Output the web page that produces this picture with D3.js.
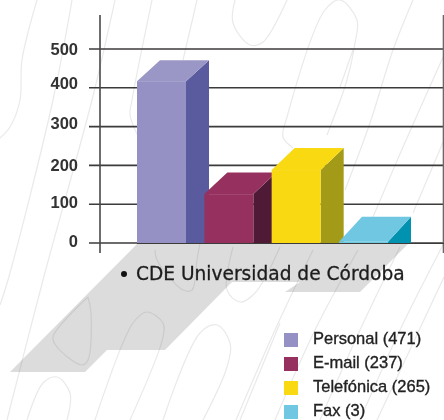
<!DOCTYPE html>
<html><head><meta charset="utf-8">
<script src="https://cdn.jsdelivr.net/npm/d3@7"></script>
<style>html,body{margin:0;padding:0;background:#fff}svg{display:block;filter:blur(0.5px)}</style>
</head><body><svg id="c" width="444" height="420"></svg>
<script>
// data
const categories = ["Personal","E-mail","Telefónica","Fax"];
const legendCounts = [471,237,265,3];
const drawnHeights = [417,126,188,3];
const frontColors = ["#9591c4","#96305f","#f9d911","#6fc7e2"];
const sideColors = ["#5a5a9f","#4e1a36","#a39a17","#0092ae"];
const topColors = ["#9a96c6","#96305f","#f9d911","#6fc7e2"];
const tickValues = [0,100,200,300,400,500];
const tickNudge = [-2,-2,0,-3.5,-4.5,0];
const title = "CDE Universidad de Córdoba";

// decoration: background watermark strokes
const watermark = [
 [[37,0],[22,60],[20,100],[10,127],[0,138]],
 [[72,0],[53,100],[8,280],[0,305]],
 [[115,0],[92,100],[43,280],[7,420]],
 [[152,0],[132,100],[130,115],[140,140]],
 [[197,0],[183,60]],
 [[235,0],[233,23],[250,45],[263,42],[287,0]],
 [[293,148],[283,137],[287,117],[325,10],[340,0],[357,20],[355,43],[347,80],[327,135]],
 [[413,0],[393,50],[370,123],[345,190]],
 [[444,55],[403,147],[373,217]],
 [[353,50],[340,87]],
 [[444,140],[413,213]],
 [[233,247],[227,290],[240,302],[255,293],[280,247]],
 [[155,250],[157,260],[183,290],[192,290],[197,260],[200,243]],
 [[88,297],[91,313],[88,360],[82,365],[57,347],[53,337],[88,297]],
 [[95,420],[133,323],[147,312],[163,323],[163,337],[130,420]],
 [[163,420],[200,333],[217,325],[230,343],[227,367],[203,420]],
 [[27,420],[43,383],[57,377],[70,393],[67,420]],
 [[280,323],[240,420]],
 [[313,250],[275,330],[236,420]],
 [[358,250],[315,330],[275,420]],
 [[400,247],[360,330],[320,420]],
 [[444,243],[400,330],[360,420]],
 [[444,277],[377,420]]
];
const shadow = [[137,244],[10,372],[85,372],[107,350],[165,350],[232,282],[300,282],[285,292],[360,292],[408,244]];

const svg = d3.select("#c");
const y = d3.scaleLinear().domain([0,500]).range([243,49]);
const x = d3.scaleBand().domain(categories).range([137,388]).paddingInner(0.272).paddingOuter(0);
const depthX = 23;
const depthYs = [21,21.5,22,25];
const poly = d3.line();

svg.append("path").attr("d",poly(shadow)+"Z").attr("fill","#dcdcdc");

const curve = d3.line().curve(d3.curveCatmullRom.alpha(0.5));
svg.append("g").selectAll("path").data(watermark).join("path")
  .attr("d",d=>curve(d)).attr("fill","none")
  .attr("stroke","rgba(110,110,110,0.15)").attr("stroke-width",1.2);

// axis
const axisG = svg.append("g").attr("transform","translate(100,0)")
  .call(d3.axisLeft(y).tickValues(tickValues).tickSize(0).tickSizeOuter(0).tickPadding(22).tickFormat(d3.format("d")));
axisG.select(".domain").remove();
axisG.selectAll("text")
  .attr("y",(d,i)=>tickNudge[i])
  .attr("font-family","'Liberation Sans',Arial,sans-serif")
  .attr("font-size",16.5).attr("font-weight","bold").attr("fill","#333").attr("text-anchor","end");

svg.append("g").selectAll("line").data(tickValues).join("line")
  .attr("x1",89).attr("x2",444).attr("y1",d=>y(d)).attr("y2",d=>y(d))
  .attr("stroke","#3d3a3a").attr("stroke-width",1.6);
svg.append("line").attr("x1",100).attr("x2",100).attr("y1",15).attr("y2",253).attr("stroke","#4a4747").attr("stroke-width",1.6);
svg.append("line").attr("x1",443.5).attr("x2",443.5).attr("y1",15).attr("y2",253).attr("stroke","#6a6767").attr("stroke-width",1.6);

// bars
const bars = svg.append("g").selectAll("g").data(categories).join("g");
bars.each(function(c,i){
  const g = d3.select(this), x0 = x(c), x1 = x0+x.bandwidth(), yT = y(drawnHeights[i]), yB = y(0), dy = depthYs[i];
  g.append("path").attr("d",poly([[x1,yT],[x1+depthX,yT-dy],[x1+depthX,yB],[x1,yB]])+"Z").attr("fill",sideColors[i]);
  g.append("path").attr("d",poly([[x0,yT],[x0+depthX,yT-dy],[x1+depthX,yT-dy],[x1,yT]])+"Z").attr("fill",topColors[i]);
  g.append("rect").attr("x",x0).attr("y",yT).attr("width",x.bandwidth()).attr("height",yB-yT).attr("fill",frontColors[i]);
});
svg.append("line").attr("x1",137).attr("x2",444).attr("y1",243.5).attr("y2",243.5).attr("stroke","#3d3a3a").attr("stroke-width",1.2);

// title
svg.append("circle").attr("cx",124).attr("cy",274).attr("r",3).attr("fill","#111");
svg.append("text").attr("x",136).attr("y",280).text(title)
  .attr("font-family","'DejaVu Sans',sans-serif").attr("font-size",18.6).attr("fill","#1c1c1c")
  .attr("stroke","#1c1c1c").attr("stroke-width",0.3);

// legend
const leg = d3.scaleBand().domain(categories).range([333,429]).padding(0);
const lg = svg.append("g").selectAll("g").data(categories).join("g");
lg.append("rect").attr("x",284).attr("y",d=>leg(d)).attr("width",14).attr("height",14)
  .attr("fill",(d,i)=>frontColors[i]);
lg.append("text").attr("x",313).attr("y",d=>leg(d)+11)
  .text((d,i)=>`${d} (${legendCounts[i]})`)
  .attr("font-family","'Liberation Sans',sans-serif")
  .attr("font-size",17).attr("fill","#222").attr("stroke","#222").attr("stroke-width",0.35)
  .each(function(){ const n=this.getComputedTextLength(); d3.select(this).attr("textLength",n*0.97).attr("lengthAdjust","spacingAndGlyphs"); });
</script></body></html>
